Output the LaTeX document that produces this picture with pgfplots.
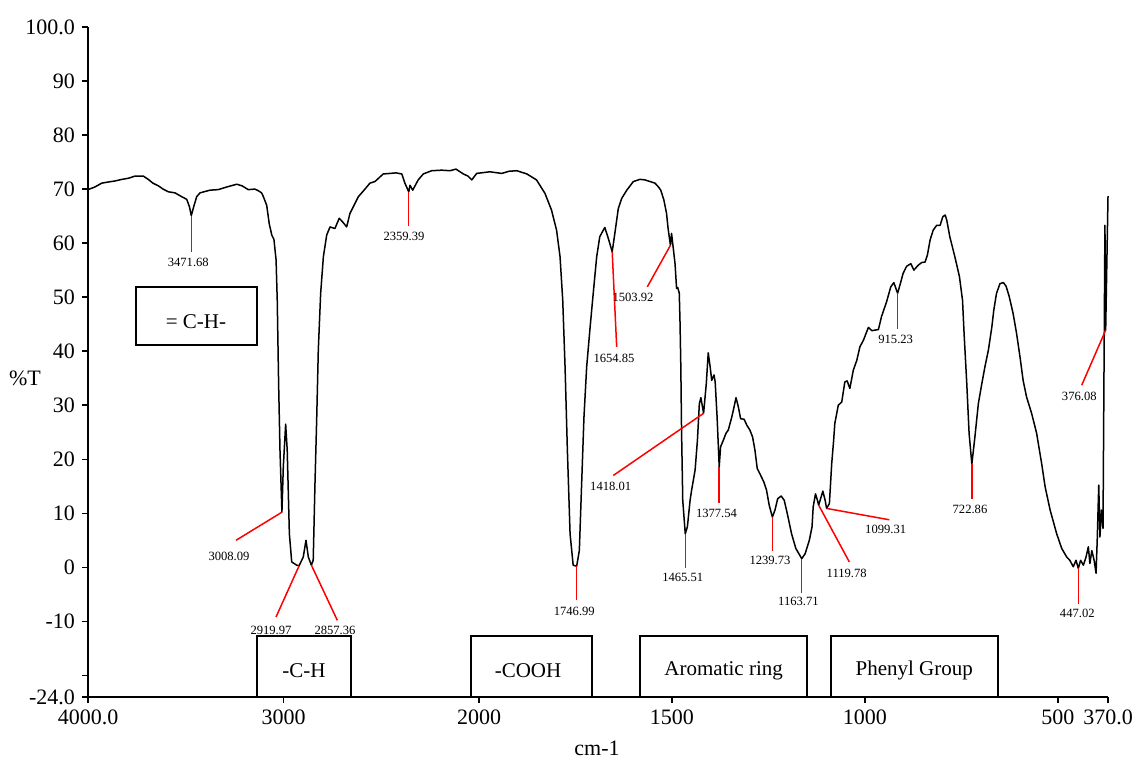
\documentclass[border=0pt]{standalone}
\usepackage{fontspec}
\setmainfont{Liberation Serif}
\usepackage{pgfplots}
\pgfplotsset{compat=1.18}
\newcommand{\plab}{\fontsize{6.3}{7}\selectfont}
\newcommand{\blab}{\fontsize{10.5}{12}\selectfont}
\newcommand{\tlab}{\fontsize{11}{13}\selectfont}
\begin{document}
\begin{tikzpicture}
\begin{axis}[
  at={(0,0)}, anchor=south west, name=ax,
  scale only axis, width=510pt, height=335pt,
  x coord trafo/.code={\pgfmathparse{-((#1>2000) ? (2000+(#1-2000)*0.5066) : (#1))}},
  x coord inv trafo/.code={\pgfmathparse{(-#1>2000) ? (2000+(-#1-2000)/0.5066) : (-#1)}},
  xmin=4000, xmax=370, ymin=-24, ymax=100,
  axis x line=bottom, axis y line=left,
  axis line style={line width=0.75pt, -},
  tick align=outside, major tick length=3pt,
  tick style={line width=0.75pt, black},
  xtick={4000,3000,2000,1500,1000,500,370},
  xticklabels={4000.0,3000,2000,1500,1000,500,370.0},
  ytick={-24,-20,-10,0,10,20,30,40,50,60,70,80,90,100},
  yticklabels={-24.0,,-10,0,10,20,30,40,50,60,70,80,90,100.0},
  ticklabel style={font=\tlab},
  clip=false,
]
\addplot[black, line width=0.75pt, line join=round] table {
x y
4000 69.9
3964 70.4
3930 71.1
3898 71.3
3862 71.5
3826 71.8
3794 72.0
3760 72.4
3717 72.4
3692 71.8
3668 71.1
3640 70.6
3616 70.0
3589 69.5
3555 69.3
3521 68.6
3495 68.1
3481 66.7
3471.68 65.1
3458 66.9
3444 68.6
3427 69.3
3376 69.8
3334 69.9
3289 70.4
3239 70.9
3212 70.6
3180 69.9
3146 70.0
3129 69.7
3112 69.3
3103 68.6
3086 67.0
3073 63.6
3060 61.5
3049 60.7
3038 56.9
3032 49.4
3025 34.0
3018 21.7
3008.09 10.2
3001 18.6
2989 26.5
2981 21.7
2970 6.2
2958 1.0
2933 0.4
2919.97 0.3
2899 1.9
2885 5.0
2873 1.9
2857.36 0.4
2848 1.3
2839 15.5
2830 27.8
2822 40.2
2810 50.7
2796 57.5
2779 61.5
2762 63.0
2737 62.7
2715 64.6
2697 63.9
2677 63.0
2660 65.5
2617 68.6
2588 69.8
2558 71.1
2532 71.4
2490 72.8
2455 72.9
2425 73.0
2395 72.8
2379 71.1
2359.39 69.5
2353 70.7
2339 69.8
2311 71.7
2285 72.8
2242 73.4
2191 73.5
2148 73.4
2118 73.7
2080 72.8
2056 72.4
2037 71.7
2012 72.9
1972 73.2
1941 72.9
1922 73.3
1902 73.4
1876 72.8
1851 71.7
1829 69.2
1812 66.1
1799 62.4
1790 57.5
1783 49.4
1777 37.1
1771 21.7
1764 6.2
1756 0.4
1746.99 0.2
1740 3.1
1734 15.5
1728 27.8
1721 37.1
1712 44.5
1704 50.7
1695 57.5
1687 61.2
1674 62.9
1665 60.9
1654.85 58.4
1648 61.8
1639 66.4
1630 68.3
1617 69.8
1600 71.4
1583 71.8
1570 71.7
1557 71.4
1544 71.1
1535 70.4
1529 69.8
1521 68.0
1514 65.5
1510 62.7
1503.92 59.6
1501 61.8
1497 59.3
1492 56.2
1488 51.6
1485 51.8
1481 50.7
1479 45.1
1477 37.1
1475 24.8
1472 12.4
1465.51 6.2
1460 7.5
1453 12.4
1449 14.3
1440 18.0
1434 23.5
1429 30.3
1425 31.4
1418.01 28.5
1411 34.0
1406 39.7
1401 37.1
1397 34.6
1391 35.6
1388 34.3
1383 27.8
1377.54 18.6
1374 22.3
1367 23.5
1360 24.8
1354 25.4
1345 27.8
1339 29.7
1334 31.4
1328 29.7
1322 27.5
1313 27.4
1306 26.3
1298 25.4
1291 24.1
1285 21.7
1279 18.3
1270 17.0
1262 15.8
1255 14.3
1248 11.5
1239.73 9.3
1233 10.6
1226 12.7
1217 13.2
1209 12.4
1201 9.9
1190 6.2
1179 3.5
1163.71 1.6
1155 2.5
1144 5.0
1137 7.5
1134 11.2
1128 13.6
1123 12.4
1119.78 11.5
1109 14.1
1103 12.4
1099.31 10.9
1092 11.8
1086 19.2
1081 23.5
1078 26.6
1069 30.0
1060 30.6
1052 34.3
1046 34.5
1039 33.1
1030 36.5
1021 38.3
1013 40.8
1004 42.0
991 44.4
982 43.8
965 44.0
957 46.4
944 49.1
933 51.9
925 52.7
915.23 50.7
907 52.8
901 54.4
892 55.7
881 56.2
873 55.0
862 55.9
853 56.4
844 56.5
838 57.8
831 60.6
823 62.4
814 63.3
805 63.3
798 64.9
792 65.2
788 64.3
780 61.2
767 57.5
755 53.8
747 49.4
743 43.3
736 34.0
730 24.8
722.86 19.1
715 24.1
706 30.3
697 34.0
689 37.1
680 40.2
671 44.5
666 47.6
659 50.7
650 52.5
641 52.7
634 52.0
626 50.1
616 47.0
607 43.3
598 38.9
590 34.6
581 31.5
568 28.5
555 24.8
542 19.2
533 14.9
520 10.6
503 6.2
490 3.5
477 1.9
469 1.3
460 0.1
453 1.3
447.02 -0.2
441 1.3
434 0.4
427 1.9
421 3.8
417 0.7
412 3.1
406 1.3
401 -1.1
398 5.0
394 15.2
391 5.6
387 10.6
383 7.2
378 63.3
376.08 43.9
370 68.7
};
% peak annotations
\begin{scope}[red, line width=0.75pt]
\draw (axis cs:3471.68,65.1) -- (axis cs:3471.68,58.4);
\draw (axis cs:2359.39,69.5) -- (axis cs:2359.39,63.1);
\draw (axis cs:3008.09,10.2) -- (axis cs:3242.9,5.0);
\draw (axis cs:2919.97,0.3) -- (axis cs:3038.3,-9.2);
\draw (axis cs:2857.36,0.4) -- (axis cs:2724.8,-9.8);
\draw (axis cs:1746.99,0.2) -- (axis cs:1746.99,-6.1);
\draw (axis cs:1654.85,58.4) -- (axis cs:1643.2,40.8);
\draw (axis cs:1503.92,59.6) -- (axis cs:1563.9,51.9);
\draw (axis cs:1418.01,28.5) -- (axis cs:1652.0,17.0);
\draw (axis cs:1465.51,6.2) -- (axis cs:1465.51,-0.2);
\draw (axis cs:1377.54,18.6) -- (axis cs:1377.54,11.9);
\draw (axis cs:1239.73,9.3) -- (axis cs:1239.73,3.0);
\draw (axis cs:1163.71,1.6) -- (axis cs:1163.71,-4.7);
\draw (axis cs:1119.78,11.5) -- (axis cs:1040.4,1.0);
\draw (axis cs:1099.31,10.9) -- (axis cs:936.8,8.8);
\draw (axis cs:915.23,50.7) -- (axis cs:915.23,44.1);
\draw (axis cs:722.86,19.1) -- (axis cs:722.86,12.7);
\draw (axis cs:447.02,-0.2) -- (axis cs:447.02,-6.7);
\draw (axis cs:376.08,43.9) -- (axis cs:438.2,33.7);
\end{scope}
\begin{scope}[every node/.style={font=\plab, inner sep=0pt}]
\node at (axis cs:3486.9,56.4) {3471.68};
\node at (axis cs:2383.6,61.3) {2359.39};
\node at (axis cs:3278.8,2.0) {3008.09};
\node at (axis cs:3063.9,-11.7) {2919.97};
\node at (axis cs:2736.6,-11.7) {2857.36};
\node at (axis cs:1753,-8.1) {1746.99};
\node at (axis cs:1650.2,38.6) {1654.85};
\node at (axis cs:1600.8,50.0) {1503.92};
\node at (axis cs:1658.7,14.9) {1418.01};
\node at (axis cs:1472,-1.9) {1465.51};
\node at (axis cs:1384.6,10.0) {1377.54};
\node at (axis cs:1245.9,1.2) {1239.73};
\node at (axis cs:1172.1,-6.4) {1163.71};
\node at (axis cs:1047.2,-1.1) {1119.78};
\node at (axis cs:946.1,7.0) {1099.31};
\node at (axis cs:920.2,42.2) {915.23};
\node at (axis cs:727.7,10.7) {722.86};
\node at (axis cs:449.6,-8.6) {447.02};
\node at (axis cs:444.4,31.7) {376.08};
\end{scope}
% group boxes
\begin{scope}[line width=1pt]
\draw (axis cs:3756,51.9) rectangle (axis cs:3137,41.1);
\draw (axis cs:3135.5,-12.8) rectangle (axis cs:2654.7,-24);
\draw (axis cs:2040.9,-12.8) rectangle (axis cs:1705.9,-24);
\draw (axis cs:1583.8,-12.8) rectangle (axis cs:1149.0,-24);
\draw (axis cs:1088.6,-12.8) rectangle (axis cs:655.1,-24);
\end{scope}
\begin{scope}[every node/.style={font=\blab, inner sep=0pt}]
\node at (axis cs:3447.5,45.4) {= C-H-};
\node at (axis cs:2895,-19.1) {-C-H};
\node at (axis cs:1873,-19.1) {-COOH};
\node at (axis cs:1366,-19.1) {Aromatic ring};
\node at (axis cs:872,-19.1) {Phenyl Group};
\end{scope}
\node[font=\tlab, inner sep=0pt] at (axis cs:1694.2,-33.5) {cm-1};
\node[font=\tlab, inner sep=0pt] at (axis cs:4322,35.0) {\%T};
\end{axis}
\pgfresetboundingbox
\path[use as bounding box] (-44pt,-30.5pt) rectangle (528pt,348.5pt);
\end{tikzpicture}
\end{document}
